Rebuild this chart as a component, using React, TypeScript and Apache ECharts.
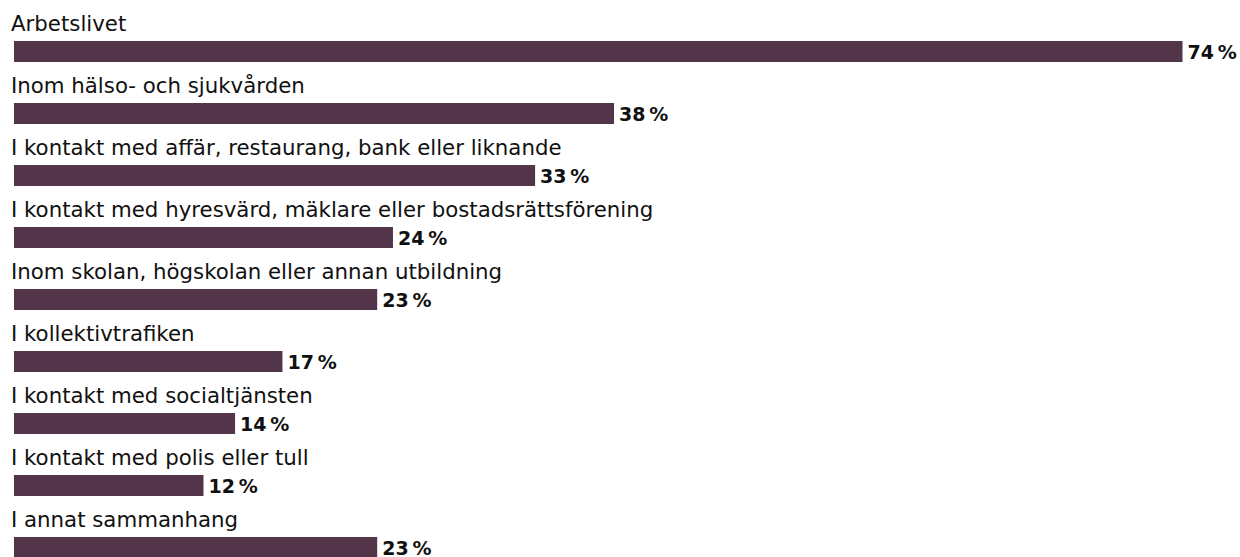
import React, { useEffect, useRef } from "react";
import * as echarts from "echarts";

const categories = [
  "Arbetslivet",
  "Inom hälso- och sjukvården",
  "I kontakt med affär, restaurang, bank eller liknande",
  "I kontakt med hyresvärd, mäklare eller bostadsrättsförening",
  "Inom skolan, högskolan eller annan utbildning",
  "I kollektivtrafiken",
  "I kontakt med socialtjänsten",
  "I kontakt med polis eller tull",
  "I annat sammanhang",
];
const values = [74, 38, 33, 24, 23, 17, 14, 12, 23];

const FONT = "'DejaVu Sans', sans-serif";
const BAR_COLOR = "#523549";

export default function App() {
  const ref = useRef<HTMLDivElement>(null);
  useEffect(() => {
    if (!ref.current) return;
    const chart = echarts.init(ref.current, undefined, { renderer: "svg" });
    chart.setOption({
      animation: false,
      grid: {
        left: 14,
        top: 20.5,
        width: 1168.5,
        height: 558,
        outerBoundsMode: "none",
        containLabel: false,
      },
      xAxis: {
        type: "value",
        min: 0,
        max: 74,
        show: false,
      },
      yAxis: {
        type: "category",
        data: categories,
        inverse: true,
        show: false,
      },
      series: [
        {
          type: "bar",
          data: values,
          barWidth: 21,
          itemStyle: { color: BAR_COLOR },
          label: {
            show: true,
            position: "right",
            distance: 5,
            formatter: (p: any) => `${p.value}\u2009%`,
            fontFamily: FONT,
            fontWeight: "bold",
            fontSize: 19,
            color: "#111",
          },
        },
        {
          type: "bar",
          data: values,
          barWidth: 21,
          barGap: "-100%",
          silent: true,
          itemStyle: { color: "transparent" },
          label: {
            show: true,
            position: [-3, -7],
            verticalAlign: "bottom",
            align: "left",
            formatter: "{b}",
            fontFamily: FONT,
            fontSize: 21.3,
            color: "#111",
          },
        },
      ],
    });
    return () => chart.dispose();
  }, []);
  return (
    <div
      ref={ref}
      style={{ position: "absolute", left: 0, top: 0, width: 1240, height: 557 }}
    />
  );
}
